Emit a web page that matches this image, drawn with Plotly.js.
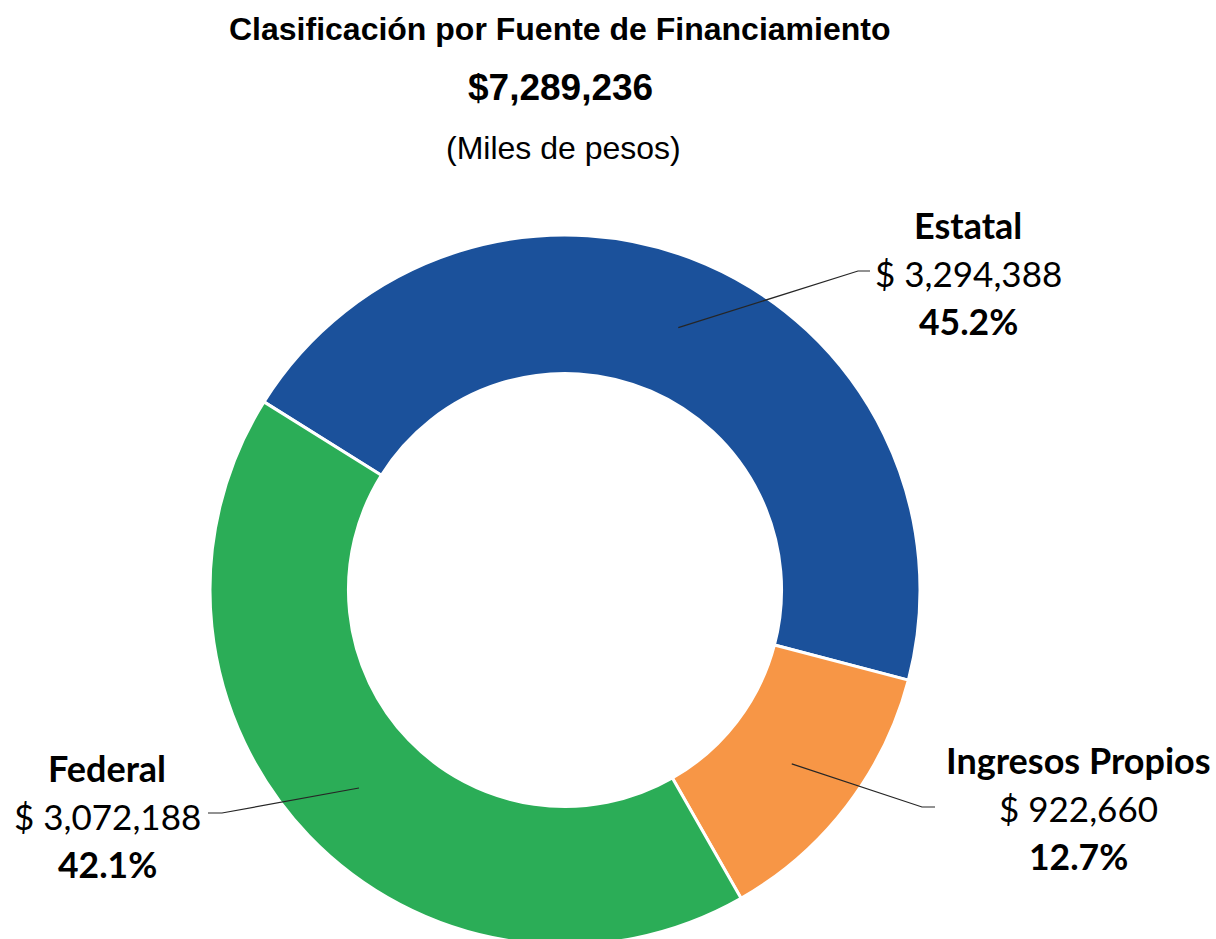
<!DOCTYPE html>
<html>
<head>
<meta charset="utf-8">
<script src="https://cdn.plot.ly/plotly-3.0.1.min.js"></script>
<style>
  html, body { margin: 0; padding: 0; background: #fff; overflow: hidden; }
  #wrap { width: 1216px; height: 939px; overflow: hidden; position: relative; }
  #chart { width: 1216px; height: 950px; }
</style>
</head>
<body>
<div id="wrap"><div id="chart"></div></div>
<script>
// ---- data ----
const categories = ["Estatal", "Ingresos Propios", "Federal"];
const values = [3294388, 922660, 3072188];
const colors = ["#1B519B", "#F79646", "#2BAD57"];
const titleText = "Clasificación por Fuente de Financiamiento";
const unitText = "(Miles de pesos)";

// ---- geometry ----
const W = 1216, H = 950;
const cx = 565, cy = 590, R = 355;
const holeFrac = 0.61;
const rotation = -58; // degrees, clockwise from 12 o'clock
const px = x => x / W;
const py = y => 1 - y / H;

const total = values.reduce((a, b) => a + b, 0);
const fmt = v => v.toLocaleString("en-US");
const pct = v => (100 * v / total).toFixed(1) + "%";

// label block placement (centre x, first line y) and leader elbow
const labelPos = {
  "Estatal":          { x: 968,  y: 225, elbow: [858, 271], end: [870, 271] },
  "Ingresos Propios": { x: 1078, y: 760, elbow: [922, 807], end: [935, 807] },
  "Federal":          { x: 107,  y: 768, elbow: [222, 813], end: [208, 813] }
};
const lineGap = 48;
const labFont = "Lato, 'Open Sans', sans-serif";

const annotations = [];
const shapes = [];

// leader lines anchored at slice mid-angle, middle of ring
let acc = 0;
const rMid = R * (1 + holeFrac) / 2;
categories.forEach((c, i) => {
  const midDeg = rotation + 360 * (acc + values[i] / 2) / total;
  acc += values[i];
  const a = midDeg * Math.PI / 180;
  const sx = cx + rMid * Math.sin(a);
  const sy = cy - rMid * Math.cos(a);
  const lp = labelPos[c];
  shapes.push({
    type: "path", xref: "paper", yref: "paper",
    path: `M ${px(sx)} ${py(sy)} L ${px(lp.elbow[0])} ${py(lp.elbow[1])} L ${px(lp.end[0])} ${py(lp.end[1])}`,
    line: { color: "#262626", width: 1.2 }
  });
  const lines = [
    { t: "<b>" + c + "</b>", size: 36 },
    { t: "$ " + fmt(values[i]), size: 35 },
    { t: "<b>" + pct(values[i]) + "</b>", size: 35.5 }
  ];
  lines.forEach((ln, k) => {
    annotations.push({
      xref: "paper", yref: "paper", showarrow: false,
      x: px(lp.x), y: py(lp.y + k * lineGap),
      xanchor: "center", yanchor: "middle",
      text: ln.t, font: { family: labFont, size: ln.size, color: "#000" }
    });
  });
});

// titles
const tFont = "'Liberation Sans', Arial, sans-serif";
annotations.push(
  { xref: "paper", yref: "paper", showarrow: false, x: px(559), y: py(29), xanchor: "center", yanchor: "middle",
    text: "<b>" + titleText + "</b>", font: { family: tFont, size: 32, color: "#000" } },
  { xref: "paper", yref: "paper", showarrow: false, x: px(560), y: py(88), xanchor: "center", yanchor: "middle",
    text: "<b>$" + fmt(total) + "</b>", font: { family: tFont, size: 37, color: "#000" } },
  { xref: "paper", yref: "paper", showarrow: false, x: px(563), y: py(148), xanchor: "center", yanchor: "middle",
    text: unitText, font: { family: tFont, size: 32, color: "#000" } }
);

const trace = {
  type: "pie",
  labels: categories,
  values: values,
  sort: false,
  direction: "clockwise",
  rotation: rotation,
  hole: holeFrac,
  textinfo: "none",
  hoverinfo: "none",
  marker: { colors: colors, line: { color: "#ffffff", width: 3 } },
  domain: { x: [px(cx - R), px(cx + R)], y: [py(cy + R), py(cy - R)] },
  showlegend: false
};

const layout = {
  width: W, height: H,
  margin: { l: 0, r: 0, t: 0, b: 0, pad: 0 },
  paper_bgcolor: "#fff",
  plot_bgcolor: "#fff",
  showlegend: false,
  annotations: annotations,
  shapes: shapes
};

Plotly.newPlot("chart", [trace], layout, { displayModeBar: false, staticPlot: true });
</script>
</body>
</html>
